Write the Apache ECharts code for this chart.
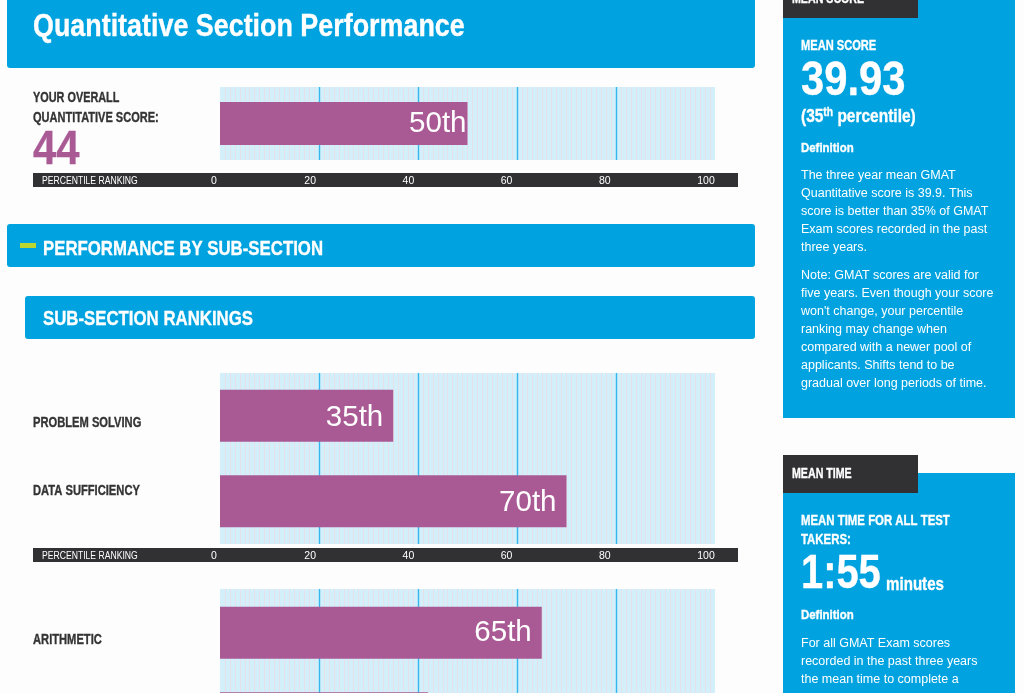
<!DOCTYPE html>
<html>
<head>
<meta charset="utf-8">
<title>Quantitative Section Performance</title>
<script src="https://cdn.jsdelivr.net/npm/echarts@6/dist/echarts.min.js"></script>
<style>
  html, body { margin: 0; padding: 0; background: #fdfdfd; }
  #chart { width: 1024px; height: 693px; }
</style>
</head>
<body>
<div id="chart"></div>
<script>
var overallCategories = [''];
var overallValues = [50];
var rankingCategories = ['PROBLEM SOLVING', 'DATA SUFFICIENCY'];
var rankingValues = [35, 70];
var contentCategories = ['ARITHMETIC', 'ALGEBRA'];
var contentValues = [65, 42];
var axisTicks = [0, 20, 40, 60, 80, 100];

var BLUE = '#00a3e0';
var DARK = '#313133';
var PURPLE = '#a95a94';
var SANS = '"Liberation Sans", sans-serif';

function box(x, y, w, h, color, r) {
  return { type: 'rect', z: 0, shape: { x: x, y: y, width: w, height: h, r: r || 0 }, style: { fill: color } };
}

// no condensed face is installed, so the headline type is squeezed with scaleX
function label(x, y, text, size, weight, squeeze, color) {
  var fill = color || '#fff';
  return {
    type: 'text', z: 5, x: x, y: y, scaleX: squeeze,
    style: {
      text: text, fontSize: size, fontWeight: weight, fontFamily: SANS, fill: fill, verticalAlign: 'middle',
      stroke: weight === 'bold' ? fill : null, lineWidth: weight === 'bold' ? 0.35 : 0
    }
  };
}

// grid 2 holds the bars of the third block, grid 5 its backdrop and grid lines
var STRIPS = [3, 4];
var grids = [
  { left: 220, top: 87, width: 495, height: 73 },
  { left: 220, top: 373, width: 495, height: 171 },
  { left: 220, top: 590, width: 495, height: 171 },
  { left: 212, top: 173, width: 491, height: 14 },
  { left: 212, top: 548, width: 491, height: 14 },
  { left: 220, top: 589, width: 495, height: 171 }
].map(function (g, i) {
  g.outerBoundsMode = 'none';
  g.show = i < 2 || i === 5;
  g.backgroundColor = '#d2effa';
  g.borderWidth = 0;
  return g;
});

var xAxes = grids.map(function (g, i) {
  var isStrip = STRIPS.indexOf(i) >= 0;
  var hasLines = !isStrip && i !== 2;
  return {
    type: 'value', gridIndex: i, min: 0, max: 100, interval: 20, position: 'bottom',
    axisLine: { show: false },
    axisTick: { show: false },
    axisLabel: {
      show: isStrip, inside: true, margin: 0, color: '#fff', fontSize: 10.5, fontFamily: SANS,
      customValues: axisTicks, hideOverlap: false,
      formatter: function (v) {
        if (v === 0) return '{first|0}';
        return v === 100 ? '{last|100}' : '' + v;
      },
      rich: {
        first: { color: '#fff', fontSize: 10.5, fontFamily: SANS, padding: [0, 0, 0, 4] },
        last: { color: '#fff', fontSize: 10.5, fontFamily: SANS, padding: [0, 0, 0, 6] }
      }
    },
    splitLine: { show: hasLines, showMinLine: false, showMaxLine: false, lineStyle: { color: '#35b6ec', width: 1.4 } },
    minorTick: { show: false, splitNumber: 20 },
    minorSplitLine: { show: hasLines, lineStyle: { color: '#e6e0ea', width: 1 } }
  };
});

var yCats = [overallCategories, rankingCategories, contentCategories, [''], [''], ['']];
var yAxes = yCats.map(function (cats, i) {
  return {
    type: 'category', gridIndex: i, data: cats, inverse: true,
    axisLine: { show: false },
    axisTick: { show: false },
    axisLabel: { show: false }
  };
});

function barSeries(values, idx, width, gap, drop) {
  return {
    type: 'bar', xAxisIndex: idx, yAxisIndex: idx, data: values, barWidth: width, z: 3,
    itemStyle: { color: PURPLE },
    label: {
      show: true, position: 'insideRight', distance: gap, offset: [0, drop], color: '#fff', fontSize: 29.5, fontFamily: SANS,
      formatter: function (p) { return p.value + 'th'; }
    }
  };
}

var panels = [
  box(7, -10, 748, 78, BLUE, 3),
  box(7, 224, 748, 43, BLUE, 3),
  box(25, 296, 730, 43, BLUE, 3),
  box(783, 0, 232, 418, BLUE),
  box(783, 473, 232, 230, BLUE),
  box(783, 0, 135, 18, DARK),
  box(783, 455, 135, 38, DARK),
  box(33, 173, 705, 14, DARK),
  box(33, 548, 705, 14, DARK),
  box(20, 243, 16, 5, '#bcd631')
];

var texts = [
  label(33, 27, 'Quantitative Section Performance', 32, 'bold', 0.84),
  label(43, 249, 'PERFORMANCE BY SUB-SECTION', 21, 'bold', 0.8),
  label(43, 319, 'SUB-SECTION RANKINGS', 21, 'bold', 0.8),
  label(33, 98, 'YOUR OVERALL', 14.5, 'bold', 0.75, '#333'),
  label(33, 118, 'QUANTITATIVE SCORE:', 14.5, 'bold', 0.76, '#333'),
  label(33, 151, '44', 48, 'bold', 0.87, PURPLE),
  label(42, 181, 'PERCENTILE RANKING', 10.5, 'normal', 0.82),
  label(42, 556, 'PERCENTILE RANKING', 10.5, 'normal', 0.82),
  label(792, -1, 'MEAN SCORE', 14, 'bold', 0.76),
  label(801, 46, 'MEAN SCORE', 15, 'bold', 0.74),
  label(801, 82, '39.93', 48, 'bold', 0.87),
  {
    type: 'text', z: 5, x: 801, y: 117, scaleX: 0.86,
    style: {
      text: '(35{sup|th} percentile)', fontSize: 18, fontWeight: 'bold', fontFamily: SANS, fill: '#fff', verticalAlign: 'middle',
      stroke: '#fff', lineWidth: 0.35,
      rich: { sup: { fontSize: 12, fontWeight: 'bold', fontFamily: SANS, fill: '#fff', verticalAlign: 'top', padding: [0, 0, 8, 0] } }
    }
  },
  label(801, 148, 'Definition', 13, 'bold', 0.88),
  label(792, 474, 'MEAN TIME', 14, 'bold', 0.76),
  label(801, 521, 'MEAN TIME FOR ALL TEST', 15, 'bold', 0.76),
  label(801, 540, 'TAKERS:', 15, 'bold', 0.76),
  label(801, 575, '1:55', 48, 'bold', 0.83),
  label(886, 585, 'minutes', 18, 'bold', 0.84),
  label(801, 615, 'Definition', 13, 'bold', 0.88)
];

// category names sit off the bar centres in the original layout
var rowLabelY = [423, 491, 640, 725];
rankingCategories.concat(contentCategories).forEach(function (name, i) {
  texts.push(label(33, rowLabelY[i], name, 14.5, 'bold', 0.77, '#333'));
});

var bodyLines = [
  [176, 'The three year mean GMAT'],
  [194, 'Quantitative score is 39.9. This'],
  [212, 'score is better than 35% of GMAT'],
  [230, 'Exam scores recorded in the past'],
  [248, 'three years.'],
  [276, 'Note: GMAT scores are valid for'],
  [294, 'five years. Even though your score'],
  [312, "won't change, your percentile"],
  [330, 'ranking may change when'],
  [348, 'compared with a newer pool of'],
  [366, 'applicants. Shifts tend to be'],
  [384, 'gradual over long periods of time.'],
  [644, 'For all GMAT Exam scores'],
  [662, 'recorded in the past three years'],
  [680, 'the mean time to complete a']
];
bodyLines.forEach(function (l) {
  texts.push(label(801, l[0], l[1], 12.5, 'normal', 1));
});

var chart = echarts.init(document.getElementById('chart'));
chart.setOption({
  animation: false,
  backgroundColor: '#fdfdfd',
  graphic: { elements: panels.concat(texts) },
  grid: grids,
  xAxis: xAxes,
  yAxis: yAxes,
  series: [
    barSeries(overallValues, 0, 43, 1, 0),
    barSeries(rankingValues, 1, 52, 10, 2),
    barSeries(contentValues, 2, 52, 10, 0)
  ]
});
</script>
</body>
</html>
